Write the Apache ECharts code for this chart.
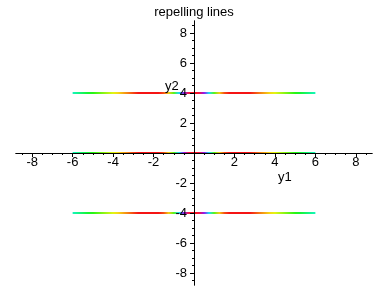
<!DOCTYPE html>
<html><head><meta charset="utf-8">
<script src="https://cdn.jsdelivr.net/npm/echarts@6/dist/echarts.min.js"></script>
<style>html,body{margin:0;padding:0;background:#fff}#c{width:388px;height:288px}</style>
</head><body><div id="c"></div>
<script>
// ---- data ----
const chartTitle = 'repelling lines';
const xAxisName = 'y1';
const yAxisName = 'y2';
const axisRange = [-8.8, 8.8];
const majorTicks = [-8, -6, -4, -2, 0, 2, 4, 6, 8];
const tickLabels = [-8, -6, -4, -2, 2, 4, 6, 8];
const minorTicks = [-8.5, -7.5, -7, -6.5, -5.5, -5, -4.5, -3.5, -3, -2.5, -1.5, -1, -0.5,
                    0.5, 1, 1.5, 2.5, 3, 3.5, 4.5, 5, 5.5, 6.5, 7, 7.5, 8.5];
const lineLevels = [4, 0, -4];
const lineXRange = [-6, 6];

// ---- colour ramp (hue vs |x|) ----
const hueKnots = [[0,360],[0.25,350],[0.45,290],[0.6,240],[0.75,185],[0.9,130],[1.1,75],[1.3,40],
  [1.55,10],[1.7,0],[2.8,0],[3.1,20],[3.4,35],[3.8,55],[4.2,75],[4.7,100],[5.2,125],[5.6,145],[6.0,165]];
function hueAt(a){
  for(let i=1;i<hueKnots.length;i++){
    const [x0,h0]=hueKnots[i-1],[x1,h1]=hueKnots[i];
    if(a<=x1){return h0+(h1-h0)*(a-x0)/(x1-x0);}
  }
  return hueKnots[hueKnots.length-1][1];
}
function hsl2rgb(h,s,l){
  h=((h%360)+360)%360/360;
  const f=n=>{const k=(n+h*12)%12;const a=s*Math.min(l,1-l);return l-a*Math.max(-1,Math.min(k-3,9-k,1));};
  return 'rgb('+Math.round(f(0)*255)+','+Math.round(f(8)*255)+','+Math.round(f(4)*255)+')';
}
const rampColors=[];
for(let i=0;i<=48;i++){const x=lineXRange[0]+i*0.25;rampColors.push(hsl2rgb(hueAt(Math.abs(x)),0.92,0.52));}

const font='"Liberation Sans", Arial, sans-serif';
const W=388,H=288;
const gridBox = {left:16,right:16,top:21,bottom:3,containLabel:false,outerBoundsMode:'none'};
const gridW = W-gridBox.left-gridBox.right, gridH = H-gridBox.top-gridBox.bottom;
const chart = echarts.init(document.getElementById('c'));
// axes with labels are shifted to the crossing point (centre of the symmetric range) with offset
function ax(gridIndex, pos, ticks, len, labels, margin, offset){
  return {type:'value', gridIndex, position:pos, min:axisRange[0], max:axisRange[1], z:5,
    offset: offset || 0,
    splitLine:{show:false},
    axisLine:{show:true,onZero:!labels,lineStyle:{color:'#000',width:1}},
    axisTick:{show:true,customValues:ticks,length:len,lineStyle:{color:'#000'}},
    axisLabel: labels ? {show:true,customValues:labels,margin,color:'#000',fontSize:13,fontFamily:font} : {show:false}};
}
chart.setOption({
  animation:false,
  backgroundColor:'#fff',
  title:{text:chartTitle,left:'center',top:1,textStyle:{fontSize:13,fontWeight:'normal',color:'#000',fontFamily:font}},
  grid:[Object.assign({},gridBox), Object.assign({},gridBox)],
  xAxis:[ ax(0,'bottom',majorTicks,4,tickLabels,3,-gridH/2), ax(1,'bottom',minorTicks,2,null,0) ],
  yAxis:[ ax(0,'left',majorTicks,4,tickLabels,7,-gridW/2), ax(1,'left',minorTicks,2,null,0) ],
  visualMap:{type:'continuous',show:false,dimension:0,min:lineXRange[0],max:lineXRange[1],
    seriesIndex:lineLevels.map((_,i)=>i),inRange:{color:rampColors}},
  graphic:[
    {type:'text',left:278,top:171,z:10,style:{text:xAxisName,fill:'#000',font:'13px '+font}},
    {type:'text',left:165,top:80,z:10,style:{text:yAxisName,fill:'#000',font:'13px '+font}}
  ],
  series: lineLevels.map(v=>({type:'line',xAxisIndex:0,yAxisIndex:0,symbol:'none',
    lineStyle:{width:2},z:2,silent:true,
    data: lineXRange.map(x=>[x,v])}))
});
</script></body></html>
